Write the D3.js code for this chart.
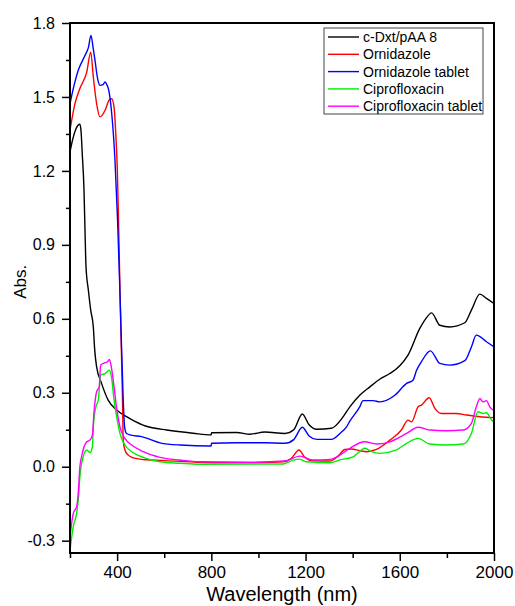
<!DOCTYPE html>
<html>
<head>
<meta charset="utf-8">
<script src="https://cdn.jsdelivr.net/npm/d3@7"></script>
<style>
  body { margin: 0; background: #fff; }
  svg { font-family: "Liberation Sans", Arial, sans-serif; }
</style>
</head>
<body>
<div class="vis-spectra"></div>
<script>
// absorbance spectra, [wavelength nm, Abs]
const dxtPAA8 = [[200,1.277],[212,1.33],[225,1.37],[242,1.389],[247,1.36],[252,1.27],[259,1.135],[264,0.946],[268,0.81],[278,0.716],[288,0.635],[299,0.567],[305,0.473],[313,0.405],[334,0.338],[362,0.27],[398,0.23],[440,0.203],[510,0.169],[540,0.16],[610,0.149],[722,0.136],[799,0.129],[801,0.138],[907,0.139],[964,0.132],[1027,0.141],[1112,0.135],[1150,0.15],[1186,0.214],[1215,0.17],[1247,0.152],[1310,0.156],[1360,0.203],[1388,0.243],[1430,0.29],[1473,0.324],[1515,0.355],[1558,0.378],[1600,0.41],[1635,0.453],[1685,0.561],[1710,0.6],[1735,0.624],[1770,0.574],[1812,0.567],[1876,0.584],[1904,0.635],[1940,0.7],[1968,0.683],[2000,0.662]];
const ornidazole = [[200,1.365],[221,1.473],[242,1.534],[271,1.601],[288,1.682],[299,1.581],[313,1.473],[327,1.419],[349,1.446],[367,1.489],[377,1.493],[387,1.459],[395,1.338],[401,1.203],[406,1.0],[413,0.675],[423,0.27],[426,0.108],[433,0.068],[447,0.047],[469,0.036],[525,0.028],[667,0.022],[800,0.016],[964,0.016],[1105,0.02],[1140,0.034],[1172,0.068],[1197,0.038],[1232,0.024],[1303,0.023],[1338,0.043],[1367,0.07],[1395,0.072],[1430,0.065],[1459,0.061],[1501,0.07],[1558,0.108],[1607,0.149],[1635,0.189],[1650,0.182],[1678,0.243],[1692,0.25],[1725,0.28],[1749,0.237],[1777,0.216],[1840,0.216],[1883,0.21],[1940,0.203],[2000,0.199]];
const ornidazoleTab = [[200,1.473],[218,1.55],[235,1.608],[264,1.669],[278,1.7],[289,1.75],[298,1.7],[306,1.649],[318,1.57],[327,1.547],[340,1.55],[349,1.561],[356,1.55],[363,1.534],[377,1.434],[391,1.243],[402,1.0],[413,0.675],[426,0.27],[432,0.16],[440,0.135],[460,0.128],[504,0.122],[539,0.111],[582,0.097],[667,0.088],[799,0.084],[801,0.095],[907,0.097],[1027,0.097],[1112,0.095],[1150,0.11],[1186,0.16],[1215,0.125],[1247,0.111],[1310,0.111],[1346,0.135],[1374,0.162],[1388,0.185],[1430,0.243],[1444,0.268],[1487,0.268],[1515,0.263],[1579,0.29],[1629,0.338],[1656,0.351],[1671,0.39],[1692,0.426],[1730,0.47],[1770,0.419],[1812,0.412],[1876,0.43],[1904,0.486],[1925,0.534],[1968,0.507],[2000,0.486]];
const cipro = [[200,-0.338],[214,-0.243],[228,-0.189],[235,-0.135],[242,-0.04],[256,0.04],[271,0.068],[285,0.057],[295,0.081],[299,0.162],[310,0.243],[320,0.27],[324,0.311],[330,0.372],[349,0.378],[367,0.392],[377,0.358],[387,0.27],[398,0.203],[412,0.135],[433,0.088],[462,0.061],[511,0.038],[582,0.02],[667,0.014],[752,0.01],[1105,0.011],[1148,0.027],[1172,0.031],[1204,0.02],[1303,0.016],[1346,0.028],[1402,0.04],[1452,0.075],[1480,0.061],[1515,0.054],[1586,0.068],[1629,0.095],[1678,0.115],[1727,0.092],[1798,0.088],[1869,0.092],[1904,0.135],[1932,0.223],[1953,0.216],[1968,0.219],[1985,0.196],[2000,0.178]];
const ciproTab = [[200,-0.284],[214,-0.189],[228,-0.162],[235,-0.108],[242,0.0],[249,0.04],[271,0.101],[285,0.108],[295,0.128],[302,0.223],[313,0.304],[324,0.324],[330,0.412],[349,0.422],[360,0.426],[367,0.435],[374,0.412],[387,0.324],[398,0.237],[412,0.162],[433,0.115],[462,0.088],[511,0.061],[582,0.038],[667,0.027],[752,0.02],[964,0.018],[1112,0.023],[1176,0.043],[1232,0.027],[1303,0.03],[1346,0.047],[1388,0.075],[1452,0.101],[1501,0.092],[1558,0.101],[1629,0.135],[1678,0.16],[1727,0.149],[1798,0.146],[1869,0.149],[1904,0.176],[1925,0.243],[1940,0.277],[1953,0.263],[1968,0.268],[1982,0.243],[2000,0.227]];

const seriesNames = ["c-Dxt/pAA 8", "Ornidazole", "Ornidazole tablet", "Ciprofloxacin", "Ciprofloxacin tablet"];
const seriesData = [dxtPAA8, ornidazole, ornidazoleTab, cipro, ciproTab];
const seriesColors = ["#000000", "#ff0000", "#0000ff", "#00ee00", "#ff00ff"];

const xMajor = [400, 800, 1200, 1600, 2000];
const xMinor = [200, 600, 1000, 1400, 1800];
const yMajor = [-0.3, 0, 0.3, 0.6, 0.9, 1.2, 1.5, 1.8];
const yMinor = [-0.15, 0.15, 0.45, 0.75, 1.05, 1.35, 1.65];

const W = 515, H = 606;
let margin = { top: 23, right: 21, bottom: 53, left: 70 };
const width = W - margin.left - margin.right;
const height = H - margin.top - margin.bottom;

let svg = d3.select(".vis-spectra")
    .append("svg")
    .attr("width", W)
    .attr("height", H)
    .append("g")
    .attr("transform", "translate(" + margin.left + "," + margin.top + ")");

let x = d3.scaleLinear().domain([200, 2000]).range([0, width]);
let y = d3.scaleLinear().domain([-0.35, 1.8]).range([height, 0]);

svg.append("clipPath").attr("id", "plot-clip")
    .append("rect").attr("width", width).attr("height", height);

// curves
const line = d3.line()
    .x(d => x(d[0]))
    .y(d => y(d[1]))
    .curve(d3.curveMonotoneX);

svg.append("g")
    .attr("clip-path", "url(#plot-clip)")
    .selectAll("path")
    .data(seriesData)
    .join("path")
    .attr("d", line)
    .attr("fill", "none")
    .attr("stroke", (d, i) => seriesColors[i])
    .attr("stroke-width", 1.4);

// axes
const tickFont = g => g.selectAll("text")
    .attr("fill", "#000")
    .style("font-size", "16px");

svg.append("g")
    .attr("transform", `translate(0,${height})`)
    .call(d3.axisBottom(x).tickValues(xMinor).tickSize(5).tickFormat(""))
    .call(g => g.select(".domain").remove())
    .call(g => g.selectAll("line").attr("stroke-width", 1.5));

svg.append("g")
    .attr("transform", `translate(0,${height})`)
    .call(d3.axisBottom(x).tickValues(xMajor).tickSize(8).tickPadding(5).tickFormat(d => String(d)))
    .call(g => g.select(".domain").remove())
    .call(g => g.selectAll("line").attr("stroke-width", 1.5))
    .call(tickFont)
    .call(g => g.selectAll("text").style("font-size", "17px"));

svg.append("g")
    .call(d3.axisLeft(y).tickValues(yMinor).tickSize(4).tickFormat(""))
    .call(g => g.select(".domain").remove())
    .call(g => g.selectAll("line").attr("stroke-width", 1.5));

svg.append("g")
    .call(d3.axisLeft(y).tickValues(yMajor).tickSize(8).tickPadding(7).tickFormat(d => d.toFixed(1)))
    .call(g => g.select(".domain").remove())
    .call(g => g.selectAll("line").attr("stroke-width", 1.5))
    .call(tickFont);

// frame
svg.append("rect")
    .attr("width", width)
    .attr("height", height)
    .attr("fill", "none")
    .attr("stroke", "#000")
    .attr("stroke-width", 2);

// axis titles
svg.append("text")
    .attr("x", width / 2)
    .attr("y", height + 48)
    .attr("text-anchor", "middle")
    .style("font-size", "20px")
    .text("Wavelength (nm)");

svg.append("text")
    .attr("transform", `translate(${-44},${y(0.75)}) rotate(-90)`)
    .attr("text-anchor", "middle")
    .style("font-size", "17px")
    .text("Abs.");

// legend
const legend = svg.append("g")
    .attr("transform", `translate(${324 - margin.left},${28 - margin.top})`);

legend.append("rect")
    .attr("width", 159)
    .attr("height", 86)
    .attr("fill", "#fff")
    .attr("stroke", "#444")
    .attr("stroke-width", 1);

const rows = legend.selectAll(".row")
    .data(seriesNames)
    .join("g")
    .attr("class", "row")
    .attr("transform", (d, i) => `translate(0,${9 + i * 17.3})`);

rows.append("line")
    .attr("x1", 4).attr("x2", 35)
    .attr("stroke", (d, i) => seriesColors[i])
    .attr("stroke-width", 1.4);

rows.append("text")
    .attr("x", 39)
    .attr("dy", "0.35em")
    .style("font-size", "14px")
    .text(d => d);
</script>
</body>
</html>
